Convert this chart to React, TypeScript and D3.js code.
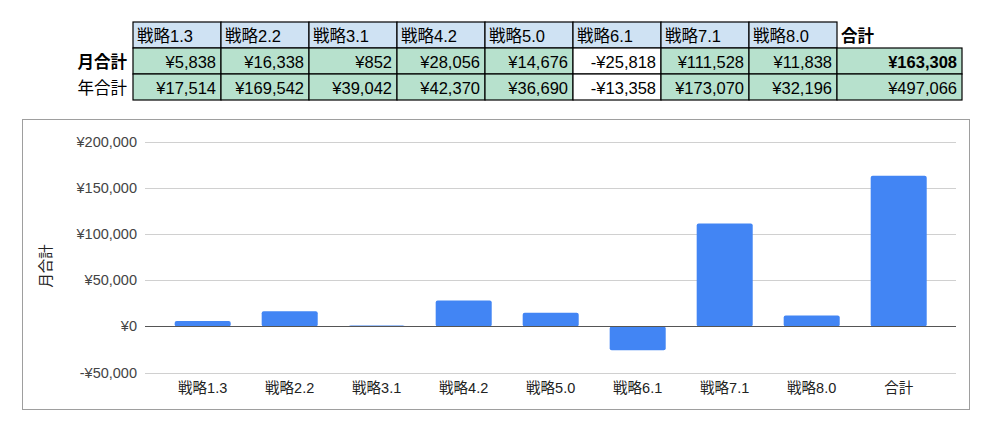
import { useEffect, useRef } from "react";
import * as d3 from "d3";

const CATEGORIES = ["戦略1.3", "戦略2.2", "戦略3.1", "戦略4.2", "戦略5.0", "戦略6.1", "戦略7.1", "戦略8.0", "合計"];
const MONTHLY = [5838, 16338, 852, 28056, 14676, -25818, 111528, 11838, 163308];
const YEARLY = [17514, 169542, 39042, 42370, 36690, -13358, 173070, 32196, 497066];
const ROW_LABELS = ["月合計", "年合計"];
const Y_TICKS = [-50000, 0, 50000, 100000, 150000, 200000];

const W = 993, H = 447;
const FONT = "'Liberation Sans', Arial, 'Noto Sans CJK JP', sans-serif";
const BLUE = "#4285f4";
const HEAD_FILL = "#cfe2f3";
const CELL_FILL = "#b7e1cd";

const yen = (v: number) => (v < 0 ? "-" : "") + "¥" + d3.format(",")(Math.abs(v));

export default function App() {
  const svgRef = useRef<SVGSVGElement>(null);

  useEffect(() => {
    if (!svgRef.current) return;
    const svg = d3.select(svgRef.current);
    svg.selectAll("*").remove();
    svg.attr("width", W).attr("height", H);
    svg.append("rect").attr("width", W).attr("height", H).attr("fill", "#fff");

    // ---- table ----
    const tx0 = 133, colW = 88, totW = 125, rowH = 26, ty0 = 22;
    const colX = (i: number) => tx0 + i * colW;
    const colWidth = (i: number) => (i === CATEGORIES.length - 1 ? totW : colW);
    const t = svg.append("g");

    CATEGORIES.forEach((c, i) => {
      const isTotal = i === CATEGORIES.length - 1;
      if (!isTotal) {
        t.append("rect").attr("x", colX(i)).attr("y", ty0).attr("width", colW).attr("height", rowH)
          .attr("fill", HEAD_FILL).attr("stroke", "#000").attr("stroke-width", 1.2);
      }
      t.append("text").attr("x", colX(i) + 4).attr("y", ty0 + 19.5)
        .attr("font-family", FONT).attr("font-size", 16.5).attr("fill", "#000")
        .attr("font-weight", isTotal ? 700 : 400).text(c);
    });

    [MONTHLY, YEARLY].forEach((row, r) => {
      const y = ty0 + rowH * (r + 1);
      t.append("text").attr("x", 127).attr("y", y + 19.5).attr("text-anchor", "end")
        .attr("font-family", FONT).attr("font-size", 16.5).attr("fill", "#000")
        .attr("font-weight", r === 0 ? 700 : 400).text(ROW_LABELS[r]);
      row.forEach((v, i) => {
        const isTotal = i === CATEGORIES.length - 1;
        t.append("rect").attr("x", colX(i)).attr("y", y).attr("width", colWidth(i)).attr("height", rowH)
          .attr("fill", v < 0 ? "#fff" : CELL_FILL).attr("stroke", "#000").attr("stroke-width", 1.2);
        t.append("text").attr("x", colX(i) + colWidth(i) - 5).attr("y", y + 19.5).attr("text-anchor", "end")
          .attr("font-family", FONT).attr("font-size", 16.5).attr("fill", "#000")
          .attr("font-weight", isTotal && r === 0 ? 700 : 400).text(yen(v));
      });
    });

    // ---- chart ----
    svg.append("rect").attr("x", 22.5).attr("y", 119.5).attr("width", 947).attr("height", 290)
      .attr("fill", "#fff").attr("stroke", "#9e9e9e");

    const y = d3.scaleLinear().domain([-50000, 200000]).range([372.5, 142]);
    const x = d3.scaleBand<string>().domain(CATEGORIES).range([159.2, 942.2])
      .paddingInner(0.356).paddingOuter(0.178);
    const gx0 = 145, gx1 = 956;

    const g = svg.append("g");
    g.selectAll(".grid").data(Y_TICKS.filter(v => v !== 0)).join("line")
      .attr("x1", gx0).attr("x2", gx1)
      .attr("y1", d => Math.round(y(d)) + 0.5).attr("y2", d => Math.round(y(d)) + 0.5)
      .attr("stroke", "#d0d0d0").attr("stroke-width", 1);

    g.selectAll(".ytick").data(Y_TICKS).join("text")
      .attr("x", 137).attr("y", d => y(d)).attr("dy", "0.35em").attr("text-anchor", "end")
      .attr("font-family", FONT).attr("font-size", 14.5).attr("fill", "#444").text(d => yen(d));

    g.selectAll(".bar").data(MONTHLY).join("rect")
      .attr("x", (_, i) => x(CATEGORIES[i])!).attr("width", x.bandwidth())
      .attr("y", d => y(Math.max(0, d))).attr("height", d => Math.abs(y(d) - y(0)))
      .attr("rx", 2).attr("fill", BLUE);

    g.append("line").attr("x1", gx0).attr("x2", gx1)
      .attr("y1", Math.round(y(0)) + 0.5).attr("y2", Math.round(y(0)) + 0.5)
      .attr("stroke", "#555").attr("stroke-width", 1.2);

    g.selectAll(".xlab").data(CATEGORIES).join("text")
      .attr("x", d => x(d)! + x.bandwidth() / 2).attr("y", 393).attr("text-anchor", "middle")
      .attr("font-family", FONT).attr("font-size", 14.5).attr("fill", "#222").text(d => d);

    g.append("text").attr("transform", "translate(51,266) rotate(-90)").attr("text-anchor", "middle")
      .attr("font-family", FONT).attr("font-size", 14.5).attr("fill", "#222").text("月合計");
  }, []);

  return (
    <svg ref={svgRef} style={{ position: "absolute", left: 0, top: 0, display: "block" }} />
  );
}
